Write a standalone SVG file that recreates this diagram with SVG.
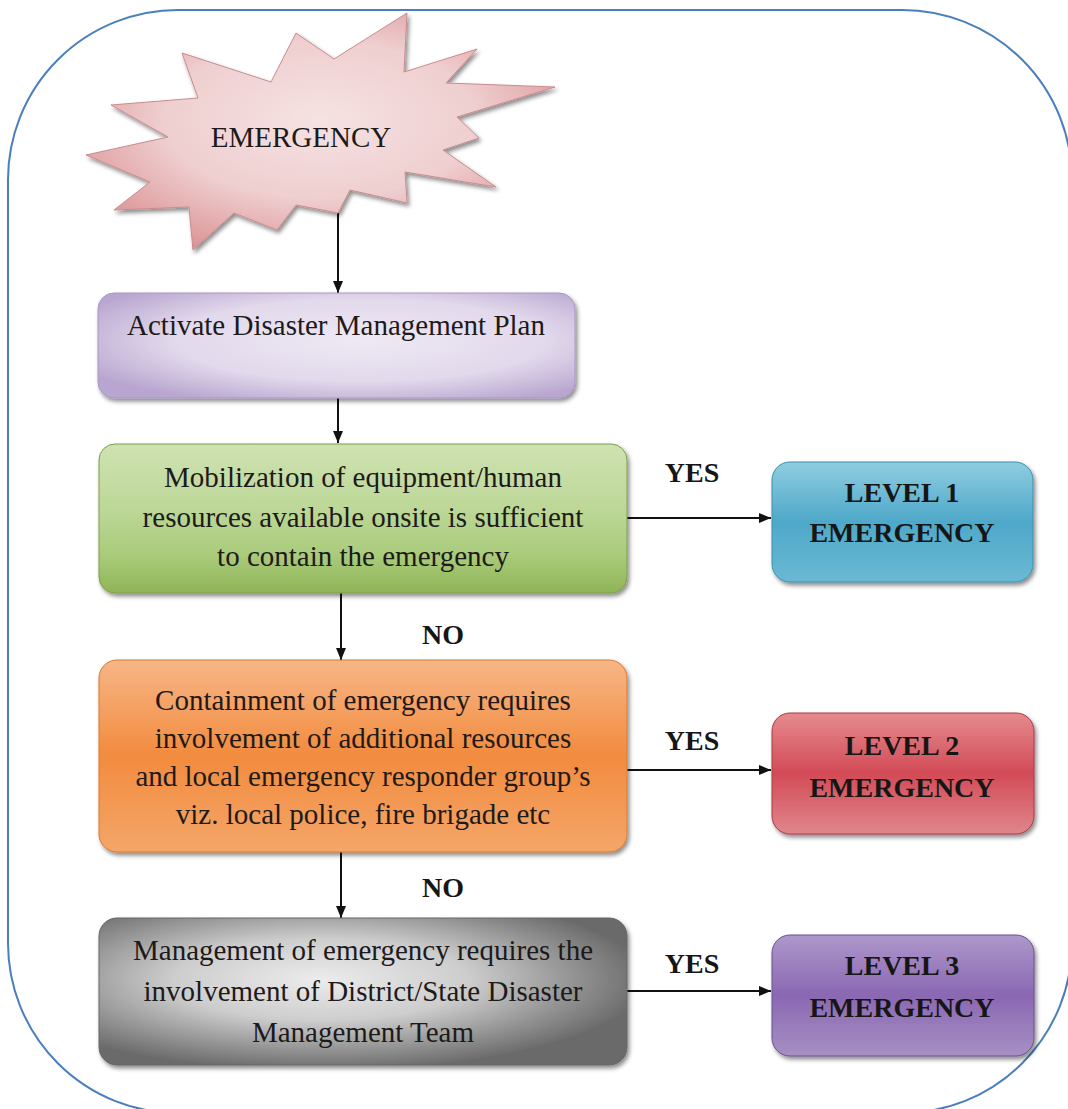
<svg xmlns="http://www.w3.org/2000/svg" width="1068" height="1109" viewBox="0 0 1068 1109">
  <style>
    .body { font-family: "Liberation Serif", "Times New Roman", serif; font-size: 29px; fill: #1e1a1a; text-anchor: middle; }
    .bold { font-family: "Liberation Serif", "Times New Roman", serif; font-size: 28px; font-weight: bold; fill: #161616; text-anchor: middle; }
    .conn { stroke: #111; stroke-width: 2; fill: none; }
    .box { filter: url(#shadow); }
  </style>
  <defs>
    <filter id="shadow" x="-10%" y="-10%" width="125%" height="130%">
      <feDropShadow dx="2" dy="3" stdDeviation="2" flood-color="#000" flood-opacity="0.45"/>
    </filter>
    <marker id="arrow" viewBox="0 0 12 10" refX="12" refY="5" markerWidth="12" markerHeight="10" markerUnits="userSpaceOnUse" orient="auto">
      <path d="M0,0 L12,5 L0,10 z" fill="#111"/>
    </marker>
    <radialGradient id="gStar" cx="50%" cy="45%" r="60%">
      <stop offset="0" stop-color="#f6e2e2"/>
      <stop offset="0.55" stop-color="#efcfd0"/>
      <stop offset="1" stop-color="#dc9496"/>
    </radialGradient>
    <radialGradient id="gPlan" cx="55%" cy="45%" r="65%">
      <stop offset="0" stop-color="#eee9f4"/>
      <stop offset="0.6" stop-color="#e2d9ec"/>
      <stop offset="1" stop-color="#b9a6d0"/>
    </radialGradient>
    <linearGradient id="gGreen" x1="0" y1="0" x2="0" y2="1">
      <stop offset="0" stop-color="#cfe2b2"/>
      <stop offset="0.45" stop-color="#bcd796"/>
      <stop offset="0.75" stop-color="#a9cb7a"/>
      <stop offset="1" stop-color="#8fb456"/>
    </linearGradient>
    <linearGradient id="gOrange" x1="0" y1="0" x2="0" y2="1">
      <stop offset="0" stop-color="#f7b686"/>
      <stop offset="0.5" stop-color="#f28b3e"/>
      <stop offset="1" stop-color="#f4a669"/>
    </linearGradient>
    <radialGradient id="gGray" cx="42%" cy="42%" r="62%">
      <stop offset="0" stop-color="#ececec"/>
      <stop offset="0.45" stop-color="#cdcdcd"/>
      <stop offset="1" stop-color="#6a6a6a"/>
    </radialGradient>
    <linearGradient id="gBlue" x1="0" y1="0" x2="0" y2="1">
      <stop offset="0" stop-color="#8fcde0"/>
      <stop offset="0.5" stop-color="#4ea8c9"/>
      <stop offset="1" stop-color="#6ab9d4"/>
    </linearGradient>
    <linearGradient id="gRed" x1="0" y1="0" x2="0" y2="1">
      <stop offset="0" stop-color="#e58a8f"/>
      <stop offset="0.5" stop-color="#d24b56"/>
      <stop offset="1" stop-color="#e0868d"/>
    </linearGradient>
    <linearGradient id="gPurple" x1="0" y1="0" x2="0" y2="1">
      <stop offset="0" stop-color="#ae98cb"/>
      <stop offset="0.5" stop-color="#8a67b2"/>
      <stop offset="1" stop-color="#a690c4"/>
    </linearGradient>
  </defs>

  <rect width="1068" height="1109" fill="#ffffff"/>

  <!-- outer rounded frame -->
  <rect id="frame" x="8" y="10" width="1064" height="1103" rx="170" ry="170" fill="none" stroke="#4a7ebd" stroke-width="2"/>

  <!-- connectors -->
  <g id="connectors">
    <line class="conn" x1="338" y1="213" x2="338" y2="293" marker-end="url(#arrow)"/>
    <line class="conn" x1="338" y1="398" x2="338" y2="443" marker-end="url(#arrow)"/>
    <line class="conn" x1="341" y1="593" x2="341" y2="660" marker-end="url(#arrow)"/>
    <line class="conn" x1="341" y1="852" x2="341" y2="918" marker-end="url(#arrow)"/>
    <line class="conn" x1="627" y1="518" x2="771" y2="518" marker-end="url(#arrow)"/>
    <line class="conn" x1="627" y1="770" x2="771" y2="770" marker-end="url(#arrow)"/>
    <line class="conn" x1="627" y1="991" x2="771" y2="991" marker-end="url(#arrow)"/>
    <text class="bold" x="692" y="482">YES</text>
    <text class="bold" x="692" y="750">YES</text>
    <text class="bold" x="692" y="973">YES</text>
    <text class="bold" x="443" y="644">NO</text>
    <text class="bold" x="443" y="897">NO</text>
  </g>

  <!-- start: emergency burst -->
  <g id="emergency">
    <polygon class="box" fill="url(#gStar)" stroke="#c98c8e" stroke-width="1"
      points="182,53 271,82 296,33 334,59 407,13 404,72 477,49 446,83 555,87 457,117 479,138 443,150 496,187 405,172 407,203 350,190 338,213 296,205 277,230 234,213 193,250 189,207 114,210 150,182 86,155 168,137 111,105 198,98"/>
    <text class="body" x="301" y="147">EMERGENCY</text>
  </g>

  <g id="activate-plan">
    <rect class="box" x="98" y="293" width="477" height="105" rx="16" fill="url(#gPlan)" stroke="#a897c2" stroke-width="1"/>
    <text class="body" x="336" y="335">Activate Disaster Management Plan</text>
  </g>

  <g id="onsite-check">
    <rect class="box" x="99" y="444" width="528" height="149" rx="16" fill="url(#gGreen)" stroke="#7d9f48" stroke-width="1"/>
    <text class="body" x="363" y="487">Mobilization of equipment/human</text>
    <text class="body" x="363" y="527">resources available onsite is sufficient</text>
    <text class="body" x="363" y="566">to contain the emergency</text>
  </g>

  <g id="local-check">
    <rect class="box" x="99" y="660" width="528" height="192" rx="18" fill="url(#gOrange)" stroke="#d9782f" stroke-width="1"/>
    <text class="body" x="363" y="710">Containment of emergency requires</text>
    <text class="body" x="363" y="748">involvement of additional resources</text>
    <text class="body" x="363" y="786">and local emergency responder group’s</text>
    <text class="body" x="363" y="824">viz. local police, fire brigade etc</text>
  </g>

  <g id="district-check">
    <rect class="box" x="99" y="918" width="528" height="147" rx="18" fill="url(#gGray)" stroke="#666" stroke-width="1"/>
    <text class="body" x="363" y="960">Management of emergency requires the</text>
    <text class="body" x="363" y="1001">involvement of District/State Disaster</text>
    <text class="body" x="363" y="1042">Management Team</text>
  </g>

  <g id="level-1">
    <rect class="box" x="772" y="462" width="261" height="120" rx="18" fill="url(#gBlue)" stroke="#3d8fae" stroke-width="1"/>
    <text class="bold" x="902" y="502">LEVEL 1</text>
    <text class="bold" x="902" y="542">EMERGENCY</text>
  </g>

  <g id="level-2">
    <rect class="box" x="772" y="713" width="262" height="121" rx="18" fill="url(#gRed)" stroke="#a83a43" stroke-width="1"/>
    <text class="bold" x="902" y="755">LEVEL 2</text>
    <text class="bold" x="902" y="797">EMERGENCY</text>
  </g>

  <g id="level-3">
    <rect class="box" x="772" y="935" width="262" height="121" rx="18" fill="url(#gPurple)" stroke="#6a4f8e" stroke-width="1"/>
    <text class="bold" x="902" y="975">LEVEL 3</text>
    <text class="bold" x="902" y="1017">EMERGENCY</text>
  </g>
</svg>
